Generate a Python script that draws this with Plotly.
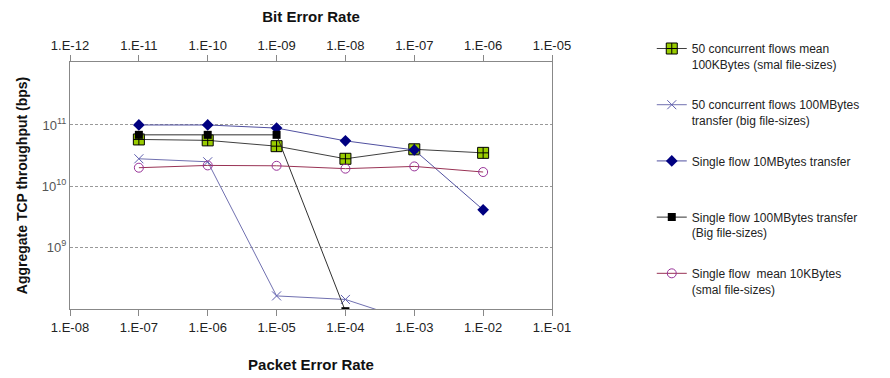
import plotly.graph_objects as go

per = [1e-7, 1e-6, 1e-5, 1e-4, 1e-3, 1e-2]
per_ticks = [1e-8, 1e-7, 1e-6, 1e-5, 1e-4, 1e-3, 1e-2, 1e-1]
per_labels = ["1.E-08", "1.E-07", "1.E-06", "1.E-05", "1.E-04", "1.E-03", "1.E-02", "1.E-01"]
ber_ticks = [1e-12, 1e-11, 1e-10, 1e-9, 1e-8, 1e-7, 1e-6, 1e-5]
ber_labels = ["1.E-12", "1.E-11", "1.E-10", "1.E-09", "1.E-08", "1.E-07", "1.E-06", "1.E-05"]
y_ticks = [1e9, 1e10, 1e11]
y_labels = ["10<sup>9</sup>", "10<sup>10</sup>", "10<sup>11</sup>"]

conc_100kb = [5.8e10, 5.6e10, 4.5e10, 2.8e10, 4.0e10, 3.5e10]
conc_100mb = [2.8e10, 2.5e10, 1.6e8, 1.4e8, 6.0e7, None]
single_10mb = [1.0e11, 1.0e11, 8.9e10, 5.5e10, 3.9e10, 4.1e9]
single_100mb = [6.9e10, 6.9e10, 6.9e10, 9.0e7, 7.5e7, None]
single_10kb = [2.0e10, 2.18e10, 2.15e10, 1.93e10, 2.1e10, 1.7e10]

names = [
    "50 concurrent flows mean<br>100KBytes (smal file-sizes)",
    "50 concurrent flows 100MBytes<br>transfer (big file-sizes)",
    "Single flow 10MBytes transfer<br> ",
    "Single flow 100MBytes transfer<br>(Big file-sizes)",
    "Single flow  mean 10KBytes<br>(smal file-sizes)",
]

font = "Liberation Sans, Arial, sans-serif"
fig = go.Figure()

fig.add_trace(go.Scatter(x=per, y=conc_100kb, name=names[0], mode="lines+markers",
    line=dict(color="#404040", width=1),
    marker=dict(symbol="square-cross", size=11, color="#99cc00", line=dict(color="#000000", width=1)),
    legendgroup="a"))
fig.add_trace(go.Scatter(x=per, y=conc_100mb, name=names[1], mode="lines+markers",
    line=dict(color="#7070b0", width=1),
    marker=dict(symbol="x-thin", size=9, color="#6060b0", line=dict(color="#6060b0", width=1)),
    legendgroup="b"))
fig.add_trace(go.Scatter(x=per, y=single_10mb, name=names[2], mode="lines+markers",
    line=dict(color="#5050a0", width=1),
    marker=dict(symbol="diamond", size=9, color="#000080"),
    legendgroup="c"))
fig.add_trace(go.Scatter(x=per, y=single_100mb, name=names[3], mode="lines+markers",
    line=dict(color="#303030", width=1),
    marker=dict(symbol="square", size=8, color="#000000"),
    legendgroup="d"))
fig.add_trace(go.Scatter(x=per, y=single_10kb, name=names[4], mode="lines+markers",
    line=dict(color="#993355", width=1),
    marker=dict(symbol="circle-open", size=9, color="#993399", line=dict(width=1)),
    legendgroup="e"))

fig.update_layout(
    width=890, height=378,
    margin=dict(l=62, r=346, t=54, b=77, autoexpand=False),
    plot_bgcolor="white", paper_bgcolor="white",
    font=dict(family=font, size=13, color="#222222"),
    showlegend=True,
    legend=dict(x=1.207, y=1.1125, xanchor="left", yanchor="top",
                font=dict(family=font, size=12, color="#222222"),
                valign="top", tracegroupgap=22, traceorder="grouped",
                maxheight=400,
                bgcolor="rgba(0,0,0,0)"),
    xaxis=dict(type="log", range=[-8, -1], tickvals=per_ticks, ticktext=per_labels,
               showgrid=False, zeroline=False, showline=True, linecolor="#888888", linewidth=1,
               mirror=False, ticks="outside", ticklen=6, tickcolor="#888888", automargin=False,
               tickfont=dict(size=13, color="#222222"),
               title=dict(text="<b>Packet Error Rate</b>", font=dict(size=15, color="#111111"), standoff=25)),
    xaxis2=dict(type="log", range=[-12, -5], tickvals=ber_ticks, ticktext=ber_labels,
                overlaying="x", side="top", showgrid=False, zeroline=False,
                showline=True, linecolor="#888888", linewidth=1, automargin=False,
                ticks="outside", ticklen=6, tickcolor="#888888",
                tickfont=dict(size=13, color="#222222"),
                title=dict(text="<b>Bit Error Rate</b>", font=dict(size=15, color="#111111"), standoff=17)),
    yaxis=dict(type="log", range=[7.99, 12.03], tickvals=y_ticks, ticktext=y_labels,
               showgrid=True, gridcolor="#999999", griddash="3px,2px", gridwidth=1,
               zeroline=False, showline=True, linecolor="#888888", linewidth=1, mirror=True,
               ticks="", automargin=False, tickfont=dict(size=13, color="#555555"),
               title=dict(text="<b>Aggregate TCP throughput (bps)</b>", font=dict(size=14, color="#111111"), standoff=10)),
)

# invisible trace to anchor the top axis
fig.add_trace(go.Scatter(x=[1e-12, 1e-5], y=[None, None], xaxis="x2", showlegend=False,
                         hoverinfo="skip", mode="lines"))

fig.write_html("out.html")
